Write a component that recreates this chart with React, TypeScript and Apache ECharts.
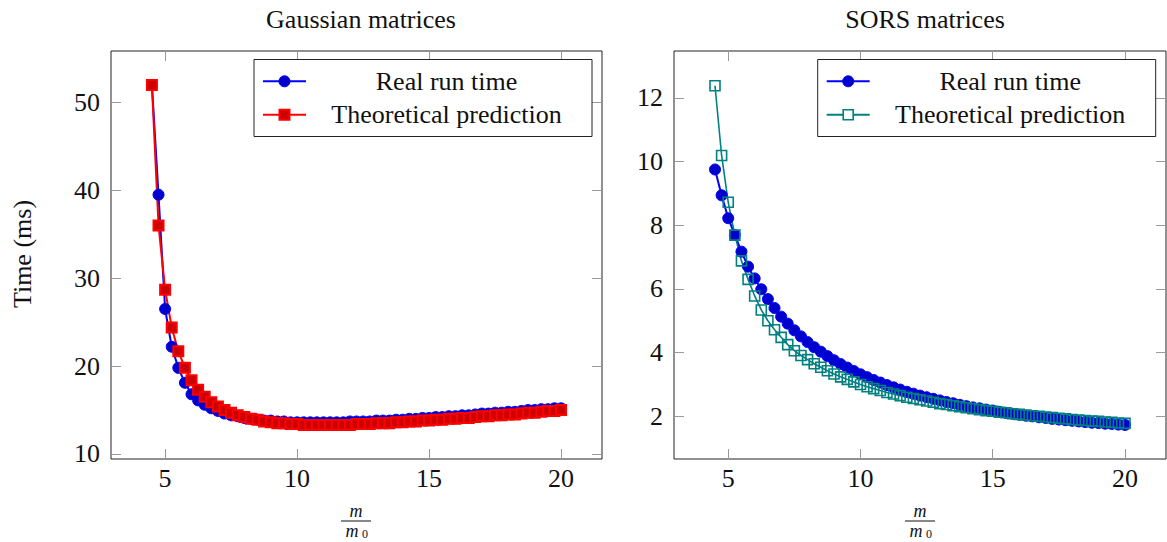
import React, { useEffect, useRef } from "react";
import * as echarts from "echarts";

// ---- data ----
const xValues = [
  4.5, 4.75, 5, 5.25, 5.5, 5.75, 6, 6.25, 6.5, 6.75, 7, 7.25, 7.5, 7.75, 8, 8.25, 8.5, 8.75, 9, 9.25, 9.5, 9.75,
  10, 10.25, 10.5, 10.75, 11, 11.25, 11.5, 11.75, 12, 12.25, 12.5, 12.75, 13, 13.25, 13.5, 13.75, 14, 14.25,
  14.5, 14.75, 15, 15.25, 15.5, 15.75, 16, 16.25, 16.5, 16.75, 17, 17.25, 17.5, 17.75, 18, 18.25, 18.5, 18.75,
  19, 19.25, 19.5, 19.75, 20,
];

const gaussReal = [
  52.0, 39.5, 26.5, 22.2, 19.8, 18.1, 16.8, 16.1, 15.6, 15.2, 14.9, 14.6, 14.4, 14.3, 14.1, 14.0, 13.9, 13.8,
  13.8, 13.7, 13.7, 13.6, 13.6, 13.6, 13.6, 13.6, 13.6, 13.6, 13.6, 13.6, 13.7, 13.7, 13.7, 13.7, 13.8, 13.8,
  13.8, 13.9, 13.9, 14.0, 14.0, 14.1, 14.1, 14.2, 14.2, 14.3, 14.3, 14.4, 14.4, 14.5, 14.6, 14.6, 14.7, 14.7,
  14.8, 14.8, 14.9, 15.0, 15.0, 15.1, 15.1, 15.2, 15.2,
];

const gaussTheory = [
  52.0, 36.0, 28.7, 24.4, 21.7, 19.8, 18.4, 17.3, 16.5, 15.9, 15.4, 15.0, 14.7, 14.4, 14.2, 14.0, 13.9, 13.7,
  13.6, 13.5, 13.5, 13.4, 13.4, 13.3, 13.3, 13.3, 13.3, 13.3, 13.3, 13.3, 13.3, 13.4, 13.4, 13.4, 13.5, 13.5,
  13.5, 13.6, 13.6, 13.7, 13.7, 13.8, 13.8, 13.9, 13.9, 14.0, 14.0, 14.1, 14.1, 14.2, 14.3, 14.3, 14.4, 14.4,
  14.5, 14.5, 14.6, 14.7, 14.7, 14.8, 14.9, 14.9, 15.0,
];

const sorsReal = [
  9.75, 8.94, 8.22, 7.69, 7.17, 6.7, 6.33, 5.99, 5.68, 5.4, 5.13, 4.91, 4.7, 4.51, 4.33, 4.17, 4.03, 3.89, 3.76,
  3.64, 3.53, 3.42, 3.32, 3.23, 3.14, 3.06, 2.98, 2.91, 2.84, 2.77, 2.71, 2.65, 2.6, 2.55, 2.5, 2.45, 2.41, 2.36,
  2.32, 2.28, 2.25, 2.21, 2.18, 2.14, 2.11, 2.08, 2.05, 2.02, 2.0, 1.97, 1.95, 1.92, 1.9, 1.88, 1.86, 1.84, 1.82,
  1.8, 1.79, 1.77, 1.76, 1.74, 1.73,
];

const sorsTheory = [
  12.38, 10.19, 8.72, 7.69, 6.88, 6.3, 5.78, 5.34, 5.0, 4.72, 4.48, 4.25, 4.06, 3.91, 3.78, 3.65, 3.54, 3.43,
  3.33, 3.24, 3.16, 3.08, 3.0, 2.93, 2.87, 2.81, 2.75, 2.7, 2.65, 2.6, 2.56, 2.52, 2.48, 2.44, 2.4, 2.37, 2.33,
  2.3, 2.27, 2.24, 2.21, 2.18, 2.16, 2.13, 2.11, 2.08, 2.06, 2.04, 2.02, 2.0, 1.98, 1.96, 1.94, 1.92, 1.9, 1.88,
  1.87, 1.85, 1.84, 1.82, 1.81, 1.79, 1.78,
];

const xTicks = [5, 10, 15, 20];
const yTicksGauss = [10, 20, 30, 40, 50];
const yTicksSors = [2, 4, 6, 8, 10, 12];
const titles = ["Gaussian matrices", "SORS matrices"];
const legendNames = ["Real run time", "Theoretical prediction"];
const yName = "Time (ms)";

const FONT = '"Liberation Serif", "Times New Roman", serif';
const FS = 26;

const pair = (ys: number[]) => xValues.map((x, i) => [x, ys[i]]);

export default function App() {
  const ref = useRef<HTMLDivElement>(null);

  useEffect(() => {
    if (!ref.current) return;
    const chart = echarts.init(ref.current, undefined, { renderer: "svg" });

    const grids = [
      { left: 111, top: 51, width: 491, height: 408 },
      { left: 674, top: 51, width: 492, height: 408 },
    ];

    const tickStyle = { inside: true, length: 10, lineStyle: { color: "#999", width: 1 } };
    const labelStyle = { fontFamily: FONT, fontSize: FS, color: "#111" };

    const mkX = (gi: number, pos: "bottom" | "top") => ({
      type: "value",
      gridIndex: gi,
      position: pos,
      min: 2.95,
      max: 21.55,
      axisLine: { show: false },
      splitLine: { show: false },
      axisTick: { ...tickStyle, customValues: xTicks },
      axisLabel:
        pos === "bottom"
          ? { ...labelStyle, margin: 6, customValues: xTicks }
          : { show: false },
    });
    const mkY = (gi: number, pos: "left" | "right", min: number, max: number, ticks: number[]) => ({
      type: "value",
      gridIndex: gi,
      position: pos,
      min,
      max,
      axisLine: { show: false },
      splitLine: { show: false },
      axisTick: { ...tickStyle, customValues: ticks },
      axisLabel:
        pos === "left" ? { ...labelStyle, margin: 11, customValues: ticks } : { show: false },
    });

    const legendBox = (dx: number, second: "filledSquare" | "hollowSquare", c2: string) => {
      const bx = 254 + dx;
      const r1 = 81.3;
      const r2 = 114.7;
      const lx0 = 263 + dx;
      const lx1 = 306 + dx;
      const mx = 284.5 + dx;
      const tx = 446.5 + dx;
      const els: any[] = [
        {
          type: "rect",
          z: 100,
          shape: { x: bx, y: 59.5, width: 338, height: 77 },
          style: { fill: "#fff", stroke: "#222", lineWidth: 1 },
        },
        { type: "line", z: 101, shape: { x1: lx0, y1: r1, x2: lx1, y2: r1 }, style: { stroke: "#0000ff", lineWidth: 2 } },
        { type: "circle", z: 102, shape: { cx: mx, cy: r1, r: 5.5 }, style: { fill: "#0000cc", stroke: "#0000ff", lineWidth: 1 } },
        { type: "line", z: 101, shape: { x1: lx0, y1: r2, x2: lx1, y2: r2 }, style: { stroke: c2, lineWidth: 2 } },
        second === "filledSquare"
          ? { type: "rect", z: 102, shape: { x: mx - 5, y: r2 - 5, width: 10, height: 10 }, style: { fill: "#cc0000", stroke: "#ff0000", lineWidth: 2 } }
          : { type: "rect", z: 102, shape: { x: mx - 5, y: r2 - 5, width: 10, height: 10 }, style: { fill: "#fff", stroke: c2, lineWidth: 1.6 } },
        {
          type: "text",
          z: 102,
          x: tx,
          y: r1,
          style: { text: legendNames[0], font: `${FS}px ${FONT}`, fill: "#111", textAlign: "center", textVerticalAlign: "middle" },
        },
        {
          type: "text",
          z: 102,
          x: tx,
          y: r2,
          style: { text: legendNames[1], font: `${FS}px ${FONT}`, fill: "#111", textAlign: "center", textVerticalAlign: "middle" },
        },
      ];
      return els;
    };

    const fraction = (cx: number) => [
      {
        type: "text",
        x: cx,
        y: 511,
        style: { text: "m", font: `italic 18px ${FONT}`, lineHeight: 18, fill: "#111", textAlign: "center", textVerticalAlign: "middle" },
      },
      { type: "line", shape: { x1: cx - 15, y1: 521, x2: cx + 15, y2: 521 }, style: { stroke: "#111", lineWidth: 1 } },
      {
        type: "text",
        x: cx - 4,
        y: 531,
        style: { text: "m", font: `italic 18px ${FONT}`, lineHeight: 18, fill: "#111", textAlign: "center", textVerticalAlign: "middle" },
      },
      {
        type: "text",
        x: cx + 9,
        y: 534,
        style: { text: "0", font: `12px ${FONT}`, lineHeight: 12, fill: "#111", textAlign: "center", textVerticalAlign: "middle" },
      },
    ];

    const option: any = {
      animation: false,
      backgroundColor: "#fff",
      title: [
        { text: titles[0], left: 356, top: 1, textAlign: "center", textStyle: { fontFamily: FONT, fontSize: FS, fontWeight: "normal", color: "#111" } },
        { text: titles[1], left: 920, top: 1, textAlign: "center", textStyle: { fontFamily: FONT, fontSize: FS, fontWeight: "normal", color: "#111" } },
      ],
      grid: grids.map((g) => ({ ...g, show: true, borderColor: "#222", borderWidth: 1, backgroundColor: "transparent" })),
      xAxis: [mkX(0, "bottom"), mkX(0, "top"), mkX(1, "bottom"), mkX(1, "top")],
      yAxis: [
        mkY(0, "left", 9.43, 55.86, yTicksGauss),
        mkY(0, "right", 9.43, 55.86, yTicksGauss),
        mkY(1, "left", 0.66, 13.47, yTicksSors),
        mkY(1, "right", 0.66, 13.47, yTicksSors),
      ],
      series: [
        {
          name: legendNames[0],
          type: "line",
          xAxisIndex: 0,
          yAxisIndex: 0,
          data: pair(gaussReal),
          symbol: "circle",
          symbolSize: 11,
          showAllSymbol: true,
          lineStyle: { color: "#0000ff", width: 2 },
          itemStyle: { color: "#0000cc", borderColor: "#0000ff", borderWidth: 1 },
        },
        {
          name: legendNames[1],
          type: "line",
          xAxisIndex: 0,
          yAxisIndex: 0,
          data: pair(gaussTheory),
          symbol: "rect",
          symbolSize: 10,
          showAllSymbol: true,
          lineStyle: { color: "#ff0000", width: 2 },
          itemStyle: { color: "#cc0000", borderColor: "#ff0000", borderWidth: 2 },
        },
        {
          name: legendNames[0],
          type: "line",
          xAxisIndex: 2,
          yAxisIndex: 2,
          data: pair(sorsReal),
          symbol: "circle",
          symbolSize: 11,
          showAllSymbol: true,
          lineStyle: { color: "#0000ff", width: 2 },
          itemStyle: { color: "#0000cc", borderColor: "#0000ff", borderWidth: 1 },
        },
        {
          name: legendNames[1],
          type: "line",
          xAxisIndex: 2,
          yAxisIndex: 2,
          data: pair(sorsTheory),
          symbol: "rect",
          symbolSize: 10,
          showAllSymbol: true,
          lineStyle: { color: "#008080", width: 1.6 },
          itemStyle: { color: "rgba(255,255,255,0)", borderColor: "#008080", borderWidth: 1.6 },
        },
      ],
      graphic: [
        ...legendBox(0, "filledSquare", "#ff0000"),
        ...legendBox(563.7, "hollowSquare", "#008080"),
        ...fraction(356),
        ...fraction(920),
        {
          type: "text",
          x: 22,
          y: 254,
          rotation: Math.PI / 2,
          style: { text: yName, font: `${FS}px ${FONT}`, fill: "#111", textAlign: "center", textVerticalAlign: "middle" },
        },
      ],
    };

    chart.setOption(option);
    return () => chart.dispose();
  }, []);

  return (
    <div
      ref={ref}
      style={{ position: "fixed", left: 0, top: 0, width: 1167, height: 542, background: "#fff" }}
    />
  );
}
